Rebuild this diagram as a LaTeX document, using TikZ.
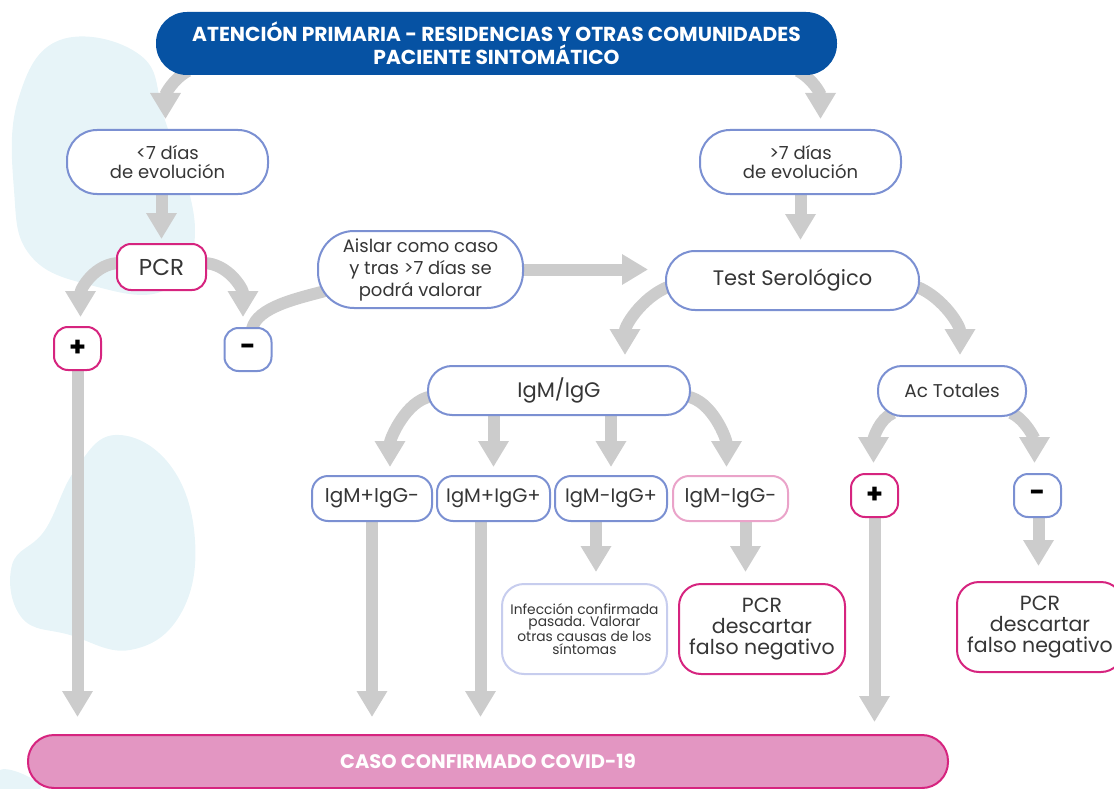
\documentclass[tikz,border=0pt]{standalone}
\usepackage{fontspec}
\setmainfont{Poppins}
\usetikzlibrary{arrows.meta,calc}
\definecolor{topblue}{HTML}{0652A3}
\definecolor{bluebd}{HTML}{7B90D2}
\definecolor{magbd}{HTML}{D6247F}
\definecolor{lpinkbd}{HTML}{EAA3C9}
\definecolor{lavbd}{HTML}{C7CDEE}
\definecolor{arrgray}{HTML}{CCCCCC}
\definecolor{casofill}{HTML}{E396C2}
\definecolor{txt}{HTML}{363636}
\definecolor{blob}{HTML}{E7F4F8}
\pgfdeclarelayer{blobs}
\pgfdeclarelayer{arrows}
\pgfsetlayers{blobs,arrows,main}
\begin{document}
\begin{tikzpicture}[x=1pt,y=-1pt,
  box/.style={draw=bluebd,line width=2pt,fill=white,text=txt,align=center,inner sep=0pt,font=\fontsize{18}{19}\selectfont},
  magbox/.style={box,draw=magbd},
  sign/.style={box,minimum width=47pt,minimum height=43pt,rounded corners=14pt,font=\bfseries\fontsize{27}{27}\selectfont,text=black},
  arr/.style={draw=arrgray,line width=12pt,-{Triangle[width=29pt,length=26pt]}},
  link/.style={draw=arrgray,line width=12pt}]
\useasboundingbox (0,0) rectangle (1114,789);
% decorative blobs
\begin{pgfonlayer}{blobs}
\fill[blob] plot[smooth cycle,tension=0.7] coordinates {(60,40) (140,55) (165,120) (195,230) (165,290) (90,285) (30,255) (14,190) (18,100)};
\fill[blob] plot[smooth cycle,tension=0.7] coordinates {(115,435) (170,465) (195,540) (180,615) (130,650) (70,635) (22,618) (12,565) (45,530) (75,470)};
\fill[blob] plot[smooth cycle,tension=0.7] coordinates {(0,770) (25,775) (40,789) (0,789)};
\end{pgfonlayer}
% nodes
\node[box,draw=topblue,fill=topblue,text=white,minimum width=679pt,minimum height=61pt,rounded corners=30pt,font=\bfseries\fontsize{20.2}{23}\selectfont] (top) at (496.5,43.5) {ATENCIÓN PRIMARIA - RESIDENCIAS Y OTRAS COMUNIDADES\\PACIENTE SINTOMÁTICO};
\node[box,minimum width=201pt,minimum height=64pt,rounded corners=30pt] (lt7) at (167.5,162) {<7 días\\de evolución};
\node[box,minimum width=201pt,minimum height=64pt,rounded corners=30pt] (gt7) at (800.5,162) {>7 días\\de evolución};
\node[magbox,minimum width=89pt,minimum height=46pt,rounded corners=14pt,font=\fontsize{23}{23}\selectfont] (pcr) at (161.5,267) {PCR};
\node[box,minimum width=205pt,minimum height=77pt,rounded corners=36pt,font=\fontsize{18}{22}\selectfont] (aislar) at (420.5,269.5) {Aislar como caso\\y tras >7 días se\\podrá valorar};
\node[box,minimum width=253pt,minimum height=59pt,rounded corners=29pt,font=\fontsize{21}{21}\selectfont] (test) at (792.5,280.5) {Test Serológico};
\node[sign,draw=magbd] (plusL) at (77.5,348.5) {+};
\node[sign] (minusL) at (248,349.5) {-};
\node[box,minimum width=262pt,minimum height=49pt,rounded corners=24pt,font=\fontsize{21}{21}\selectfont] (igm) at (559,390.5) {IgM/IgG};
\node[box,minimum width=148pt,minimum height=50pt,rounded corners=24pt,font=\fontsize{18.5}{19}\selectfont] (act) at (952,391) {Ac Totales};
\node[box,minimum width=120pt,minimum height=45pt,rounded corners=16pt,font=\fontsize{20}{20}\selectfont] (i1) at (372,498.5) {IgM+IgG-};
\node[box,minimum width=113pt,minimum height=45pt,rounded corners=16pt,font=\fontsize{19.5}{20}\selectfont] (i2) at (493.5,498.5) {IgM+IgG+};
\node[box,minimum width=112pt,minimum height=45pt,rounded corners=16pt,font=\fontsize{19.5}{20}\selectfont] (i3) at (611,498.5) {IgM-IgG+};
\node[box,draw=lpinkbd,minimum width=115pt,minimum height=45pt,rounded corners=16pt,font=\fontsize{20}{20}\selectfont] (i4) at (730.5,498.5) {IgM-IgG-};
\node[sign,draw=magbd] (plusR) at (874.5,495.5) {+};
\node[sign] (minusR) at (1037.5,495.5) {-};
\node[box,draw=lavbd,minimum width=165pt,minimum height=90pt,rounded corners=22pt,font=\fontsize{13.8}{12.8}\selectfont] (inf) at (584.5,629) {Infección confirmada\\pasada. Valorar\\otras causas de los\\síntomas};
\node[magbox,minimum width=166pt,minimum height=90pt,rounded corners=22pt,font=\fontsize{20.5}{21}\selectfont] (pcrM) at (762,629) {PCR\\descartar\\falso negativo};
\node[magbox,minimum width=166pt,minimum height=90pt,rounded corners=22pt,font=\fontsize{20.5}{21}\selectfont] (pcrR) at (1040,627) {PCR\\descartar\\falso negativo};
\node[box,draw=magbd,fill=casofill,text=white,minimum width=920pt,minimum height=53pt,rounded corners=26pt,font=\bfseries\fontsize{19.5}{19.5}\selectfont] (caso) at (488,761.5) {CASO CONFIRMADO COVID-19};
% connectors
\begin{pgfonlayer}{arrows}
\draw[arr] ($(top.south west)+(32,-4)$) .. controls +(-15,8) and +(0,-25) .. ($(lt7.north)+(-2,-10)$);
\draw[arr] ($(top.south east)+(-39,-4)$) .. controls +(15,8) and +(0,-25) .. ($(gt7.north)+(20,-10)$);
\draw[arr,shorten >=4pt] (pcr.north |- lt7.south) -- (pcr.north);
\draw[arr,shorten >=10pt] (gt7.south) -- (gt7.south |- test.north);
\draw[arr] ($(pcr.west)+(4,-4)$) .. controls +(-25,0) and +(0,-28) .. ($(plusL.north)+(3,-9)$);
\draw[arr] ($(pcr.east)+(-4,-4)$) .. controls +(25,0) and +(0,-28) .. ($(minusL.north)+(-5,-10)$);
\draw[link] ($(minusL.north)+(4,2)$) .. controls +(5,-22) and +(-30,8) .. ($(aislar.west)+(10,21)$);
\draw[arr,shorten >=17pt] (aislar.east) -- (test.west |- aislar.east);
\draw[arr] ($(test.west)+(10,4)$) .. controls +(-30,8) and +(0,-30) .. ($(igm.north)+(66,-10)$);
\draw[arr] ($(test.east)+(-10,4)$) .. controls +(30,8) and +(0,-30) .. ($(act.north)+(8,-10)$);
\draw[arr,shorten >=17pt] (plusL.south) -- (plusL.south |- caso.north);
\draw[arr] ($(igm.west)+(4,6)$) .. controls +(-25,4) and +(0,-28) .. ($(i1.north)+(18,-8)$);
\draw[arr,shorten >=8pt] (i2.north |- igm.south) -- (i2.north);
\draw[arr,shorten >=8pt] (i3.north |- igm.south) -- (i3.north);
\draw[arr] ($(igm.east)+(-4,6)$) .. controls +(25,4) and +(0,-28) .. ($(i4.north)+(-4,-8)$);
\draw[arr] ($(act.south west)+(16,-4)$) .. controls +(-14,6) and +(0,-24) .. ($(plusR.north)+(-1,-10)$);
\draw[arr] ($(act.south east)+(-16,-4)$) .. controls +(14,6) and +(0,-24) .. ($(minusR.north)+(-3,-10)$);
\draw[arr,shorten >=17pt] (i1.south) -- (i1.south |- caso.north);
\draw[arr,shorten >=17pt] ([xshift=-13pt]i2.south) -- ([xshift=-13pt]i2.south |- caso.north);
\draw[arr,shorten >=11pt] ([xshift=-15pt]i3.south) -- ([xshift=-15pt]i3.south |- inf.north);
\draw[arr,shorten >=11pt] ([xshift=15pt]i4.south) -- ([xshift=15pt]i4.south |- pcrM.north);
\draw[arr,shorten >=12pt] (plusR.south) -- (plusR.south |- caso.north);
\draw[arr,shorten >=15pt] ([xshift=1pt]minusR.south) -- ([xshift=1pt]minusR.south |- pcrR.north);
\end{pgfonlayer}
\end{tikzpicture}
\end{document}
